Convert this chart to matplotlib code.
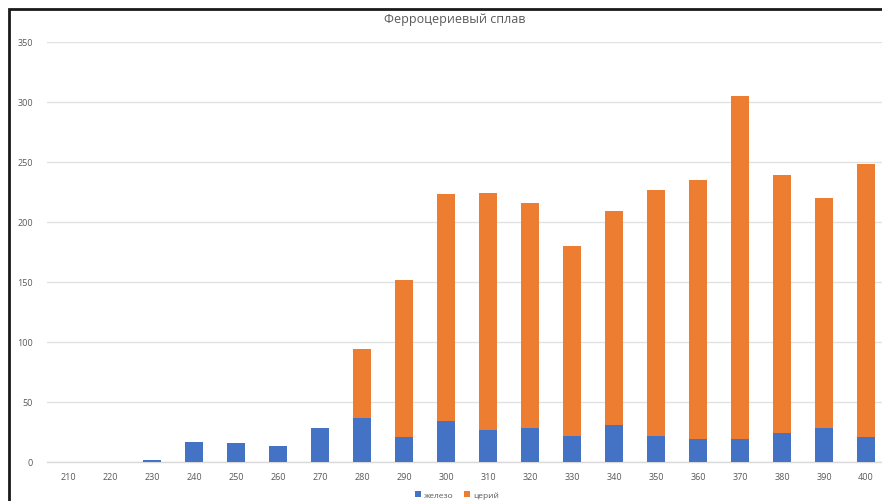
import matplotlib
matplotlib.use("Agg")
import matplotlib.pyplot as plt
from matplotlib import patches
import numpy as np

plt.rcParams['font.family'] = ['Open Sans', 'DejaVu Sans']

temps = ["210", "220", "230", "240", "250", "260", "270", "280", "290", "300",
         "310", "320", "330", "340", "350", "360", "370", "380", "390", "400"]
iron = [0, 0, 1.4, 17, 16, 13, 28, 37, 21, 34,
        27, 28, 22, 31, 22, 19, 19, 24, 28, 21]
cerium = [0, 0, 0, 0, 0, 0, 0, 57, 131, 189,
          197, 188, 158, 178, 205, 216, 286, 215, 192, 227]

W, H = 882, 502
fig = plt.figure(figsize=(W / 100, H / 100), dpi=100)

# axes extends past the right edge: the frame is cut off there
ax = fig.add_axes([47 / W, (H - 463) / H, 840 / W, 420 / H])

x = np.arange(len(temps))
bw = 0.405
ax.bar(x, iron, bw, color="#4472C4", linewidth=0, label="железо", zorder=3)
ax.bar(x, cerium, bw, bottom=iron, color="#ED7D31", linewidth=0,
       label="церий", zorder=3)

ax.set_xlim(-0.5, len(temps) - 0.5)
ax.set_ylim(0, 350)
ax.set_yticks(range(0, 351, 50))
ax.set_xticks(x)
ax.set_xticklabels(temps)
ax.grid(axis="y", color="#E2E2E2", linewidth=1, zorder=0)
for side in ["top", "right", "left"]:
    ax.spines[side].set_visible(False)
ax.spines["bottom"].set_color("#DADADA")
ax.spines["bottom"].set_linewidth(1)
ax.tick_params(axis="both", length=0, labelsize=6.5, labelcolor="#595959")
ax.tick_params(axis="y", pad=10)
ax.tick_params(axis="x", pad=7)

fig.text(455 / W, 1 - 20 / H, "Ферроцериевый сплав", ha="center", va="center",
         fontsize=9, color="#595959")

fig.legend(loc="center", bbox_to_anchor=(457 / W, 1 - 496 / H), ncol=2,
           frameon=False, fontsize=6, labelcolor="#595959",
           handlelength=0.7, handleheight=0.7, handletextpad=0.4,
           columnspacing=1.2, borderpad=0)

# dark frame around the chart area
fig.add_artist(patches.Rectangle((9 / W, -0.1), 1.2, (H - 10) / H + 0.1,
                                 transform=fig.transFigure, fill=False,
                                 linewidth=2, edgecolor="#1a1a1a"))

fig.savefig("out.png", dpi=100)
